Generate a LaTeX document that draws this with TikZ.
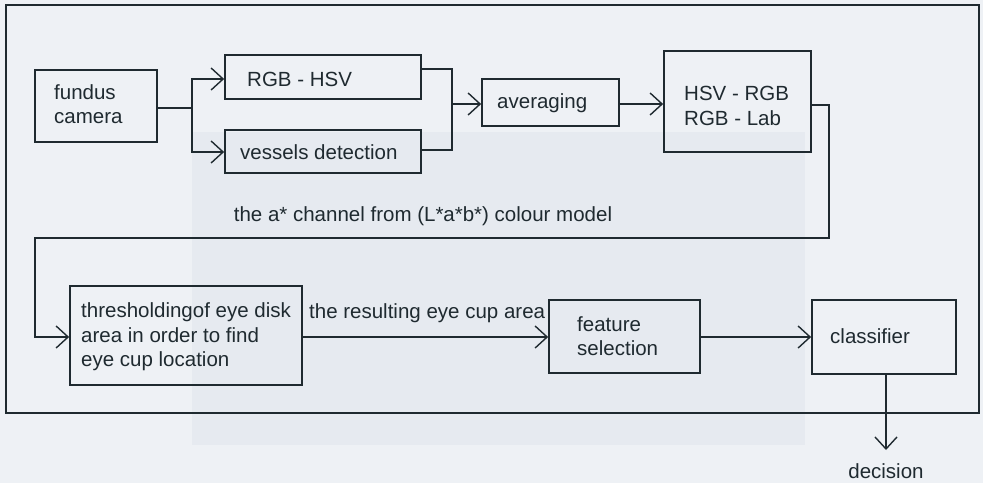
\documentclass[tikz,border=0pt]{standalone}
\usepackage{fontspec}
\setmainfont{Liberation Sans}
\usetikzlibrary{arrows.meta}
\definecolor{ink}{HTML}{1F2A30}
\definecolor{paper}{HTML}{EEF1F5}
\definecolor{paperdark}{HTML}{E6EAF0}
\tikzset{
  x=1pt, y=-1pt,
  box/.style={draw=ink, line width=1.7pt, inner sep=0pt},
  lbl/.style={font=\fontsize{20.5}{24.5}\selectfont, text=ink, inner sep=0pt},
  conn/.style={draw=ink, line width=1.7pt},
  arr/.style={conn, -{Straight Barb[length=12pt,width=22pt,line width=1.4pt]}},
}
\begin{document}
\begin{tikzpicture}
\useasboundingbox (0,0) rectangle (983,483);
\fill[paper] (0,0) rectangle (983,483);
\fill[paperdark] (192,132) rectangle (805,445);
% outer frame
\draw[ink, line width=1.5pt] (6,5) rectangle (979,413);
% boxes
\node[box, minimum width=122pt, minimum height=72pt] (fc) at (96,106) {};
\node[lbl, anchor=west, align=left] at (54,104) {fundus\\camera};
\node[box, minimum width=196pt, minimum height=44pt] (hsv) at (323,77) {};
\node[lbl, anchor=west] at (247,79) {RGB - HSV};
\node[box, minimum width=196pt, minimum height=43pt] (ves) at (323,151.5) {};
\node[lbl, anchor=west] at (240,152) {vessels detection};
\node[box, minimum width=137pt, minimum height=47pt] (avg) at (550.5,102.5) {};
\node[lbl, anchor=west] at (497,103) {averaging};
\node[box, minimum width=147pt, minimum height=101pt] (conv) at (737.5,101.5) {};
\node[lbl, anchor=west, align=left] at (684,106) {HSV - RGB\\RGB - Lab};
\node[box, minimum width=232pt, minimum height=99pt] (thr) at (186,335.5) {};
\node[lbl, anchor=west, align=left] at (81,337) {thresholdingof eye disk\\area in order to find\\eye cup location};
\node[box, minimum width=151pt, minimum height=73pt] (fs) at (624.5,336.5) {};
\node[lbl, anchor=west, align=left] at (577,336) {feature\\selection};
\node[box, minimum width=144pt, minimum height=74pt] (cl) at (884,337) {};
\node[lbl, anchor=west] at (830,336) {classifier};
% labels
\node[lbl] (lab1) at (423,216) {the a* channel from (L*a*b*) colour model};
\node[lbl, anchor=west] (lab2) at (309,313) {the resulting eye cup area};
\node[lbl] (dec) at (886,471) {decision};
\coordinate (dend) at (886,450);
% connectors
\draw[conn] (fc.east |- 0,108) -- (192,108);
\draw[arr] (192,108) |- (hsv.west |- 0,79);
\draw[arr] (192,108) |- (ves.west |- 0,152);
\draw[conn] (hsv.east |- 0,69) -| (452,104);
\draw[conn] (ves.east |- 0,150) -| (452,104);
\draw[arr] (452,104) -- (avg.west |- 0,104);
\draw[arr] (avg.east |- 0,104) -- (conv.west |- 0,104);
\draw[arr] (conv.east |- 0,105) -| (829,238) -| (35,337) -- (thr.west |- 0,337);
\draw[arr] (thr.east |- 0,337) -- (fs.west |- 0,337);
\draw[arr] (fs.east |- 0,337) -- (cl.west |- 0,337);
\draw[arr] (cl.south -| dend) -- (dend);
\end{tikzpicture}
\end{document}
